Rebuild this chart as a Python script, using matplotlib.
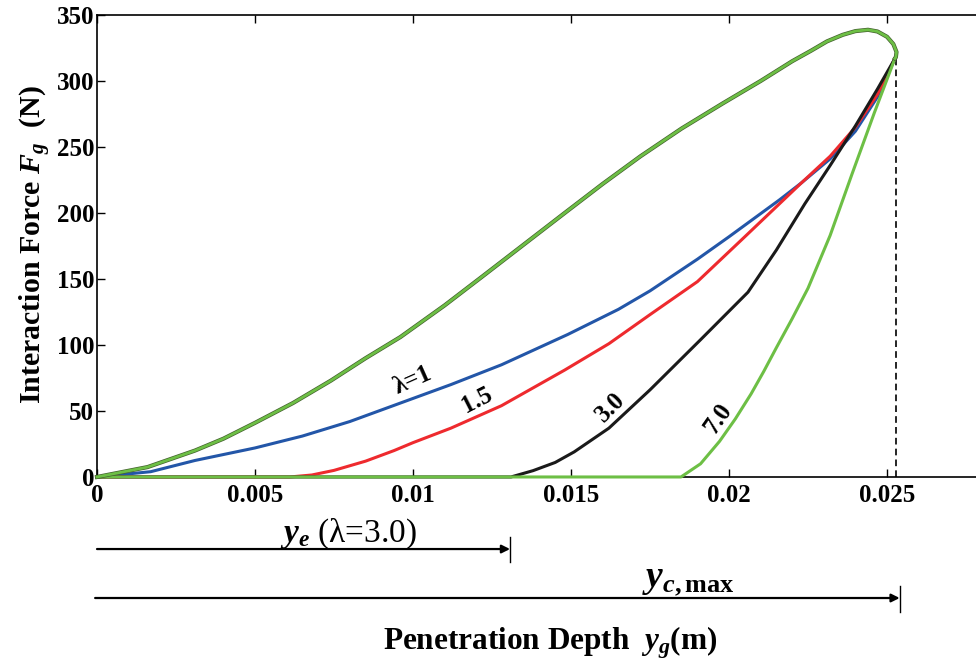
import matplotlib
matplotlib.use('Agg')
import matplotlib.pyplot as plt

plt.rcParams['font.family'] = ['Liberation Serif', 'DejaVu Serif']
plt.rcParams['mathtext.fontset'] = 'custom'
plt.rcParams['mathtext.rm'] = 'Liberation Serif:bold'
plt.rcParams['mathtext.it'] = 'Liberation Serif:italic:bold'
plt.rcParams['mathtext.bf'] = 'Liberation Serif:bold'

# loading branch (common to every lambda)
load_y = [0, 0.0016, 0.0031, 0.0040, 0.0050, 0.0062, 0.0074, 0.0085, 0.0096,
          0.0110, 0.0122, 0.0135, 0.0148, 0.0160, 0.0172, 0.0185, 0.0198,
          0.0210, 0.0220, 0.0226, 0.0231, 0.0236, 0.0240, 0.0244, 0.0247,
          0.0250, 0.0252, 0.0253, 0.02528, 0.02525]
load_f = [0, 7.5, 20, 29, 41, 56, 73, 90, 106,
          130, 152, 176, 200, 222, 243, 264, 283,
          300, 315, 323, 330, 335, 337.8, 338.8, 337.5,
          333.5, 328, 322, 318, 317]

# unloading branches
lam1_y = [0, 0.0017, 0.0031, 0.0050, 0.0065, 0.0080, 0.0096, 0.0112, 0.0128,
          0.0149, 0.0165, 0.0175, 0.0190, 0.0200, 0.0216, 0.0223, 0.0232,
          0.0240, 0.0247, 0.02525]
lam1_f = [0, 4, 12.5, 22, 31, 42, 56, 70, 85,
          108, 127, 141, 165, 182, 210, 223, 241,
          262, 288, 317]

lam15_y = [0, 0.0061, 0.0068, 0.0075, 0.0085, 0.0094, 0.0100, 0.0112, 0.0128,
           0.0148, 0.0162, 0.0175, 0.0190, 0.0205, 0.0223, 0.0232, 0.0240,
           0.0247, 0.02525]
lam15_f = [0, 0, 1.5, 5, 12, 20, 26, 37, 54,
           81, 101, 123, 148, 182, 223, 243, 265,
           290, 317]

lam3_y = [0, 0.0131, 0.0138, 0.0145, 0.0151, 0.0162, 0.0175, 0.0191, 0.0206,
          0.0215, 0.0224, 0.0232, 0.0240, 0.0247, 0.02525]
lam3_f = [0, 0, 4.8, 11, 19, 37, 66, 104, 140,
          172, 207, 236, 266, 294, 317]

lam7_y = [0, 0.01848, 0.0191, 0.0197, 0.0202, 0.0207, 0.0211, 0.0215, 0.0220,
          0.0225, 0.0232, 0.0239, 0.0246, 0.02525]
lam7_f = [0, 0, 10, 27, 44, 63, 80, 98, 120,
          143, 183, 230, 276, 317]

y_e = 0.01307       # elastic limit for lambda = 3.0
y_c_max = 0.0253    # maximum penetration depth
y_c_arrow = 0.0254
f_tip = 317

x_ticks = [0, 0.005, 0.01, 0.015, 0.02, 0.025]
x_tick_labels = ['0', '0.005', '0.01', '0.015', '0.02', '0.025']
y_ticks = [0, 50, 100, 150, 200, 250, 300, 350]

blue = '#2356a8'
red = '#ee2a2e'
black = '#1a1a1a'
green = '#6dbf45'

fig = plt.figure(figsize=(9.76, 6.67), dpi=100)
ax = fig.add_axes([0.0994, 0.2849, 0.9006, 0.6926])

for ys, fs, col in [(lam1_y, lam1_f, blue), (lam15_y, lam15_f, red),
                    (lam3_y, lam3_f, black), (lam7_y, lam7_f, green)]:
    ax.plot(ys, fs, color=col, lw=2.2, zorder=3, clip_on=False,
            solid_joinstyle='round')

ax.plot(load_y, load_f, color='#44602f', lw=3.0, zorder=4, clip_on=False)
ax.plot(load_y, load_f, color=green, lw=2.0, zorder=5, clip_on=False)

ax.plot([y_c_max, y_c_max], [0, f_tip], color='black', lw=1.2,
        linestyle=(0, (4, 2.5)), zorder=2)

# curve labels
lbl = dict(fontsize=18, fontweight='bold', ha='center', va='center')
ax.text(0.01001, 73, 'λ=1', rotation=24, **lbl)
ax.text(0.01203, 58, '1.5', rotation=27, **lbl)
ax.text(0.01624, 53, '3.0', rotation=45, **lbl)
ax.text(0.01965, 44, '7.0', rotation=55, **lbl)

ax.set_xlim(0, 0.027816)
ax.set_ylim(0, 350)
ax.set_xticks(x_ticks)
ax.set_xticklabels(x_tick_labels, fontweight='bold')
ax.set_yticks(y_ticks)
ax.set_yticklabels([str(v) for v in y_ticks], fontweight='bold')
ax.tick_params(direction='in', length=6, width=1, top=True, right=False,
               labelsize=18)
ax.tick_params(axis='x', pad=5)
ax.tick_params(axis='y', pad=2)
for s in ['left', 'bottom', 'top']:
    ax.spines[s].set_linewidth(1.2)
ax.spines['right'].set_visible(False)

# depth markers under the axis
trans = ax.get_xaxis_transform()
arrow = dict(arrowstyle='-|>', color='black', lw=1.6, mutation_scale=12,
             shrinkA=0, shrinkB=0)
ax.annotate('', xy=(y_e, -0.156), xytext=(0, -0.156), xycoords=trans,
            textcoords=trans, arrowprops=arrow, annotation_clip=False)
ax.plot([y_e, y_e], [-0.130, -0.184], transform=trans, color='black',
        lw=1, clip_on=False)
ax.text(0.00797, -0.123, r'$y_e$ (λ=3.0)', transform=trans, ha='center',
        va='center', fontsize=24)

ax.annotate('', xy=(y_c_arrow, -0.262), xytext=(-0.00006, -0.262),
            xycoords=trans, textcoords=trans, arrowprops=arrow,
            annotation_clip=False)
ax.plot([y_c_arrow, y_c_arrow], [-0.236, -0.292], transform=trans,
        color='black', lw=1, clip_on=False)
ax.text(0.0187, -0.225, r'$y_{c,\mathbf{max}}$', transform=trans,
        ha='center', va='center', fontsize=27)

fig.text(0.5635, 0.036, r'Penetration Depth  $y_g$(m)', ha='center',
         va='center', fontsize=22.5, fontweight='bold')
fig.text(0.036, 0.633, r'Interaction Force $F_g$  (N)', ha='center',
         va='center', fontsize=21.5, fontweight='bold', rotation=90)

fig.savefig('out.png', dpi=100)
